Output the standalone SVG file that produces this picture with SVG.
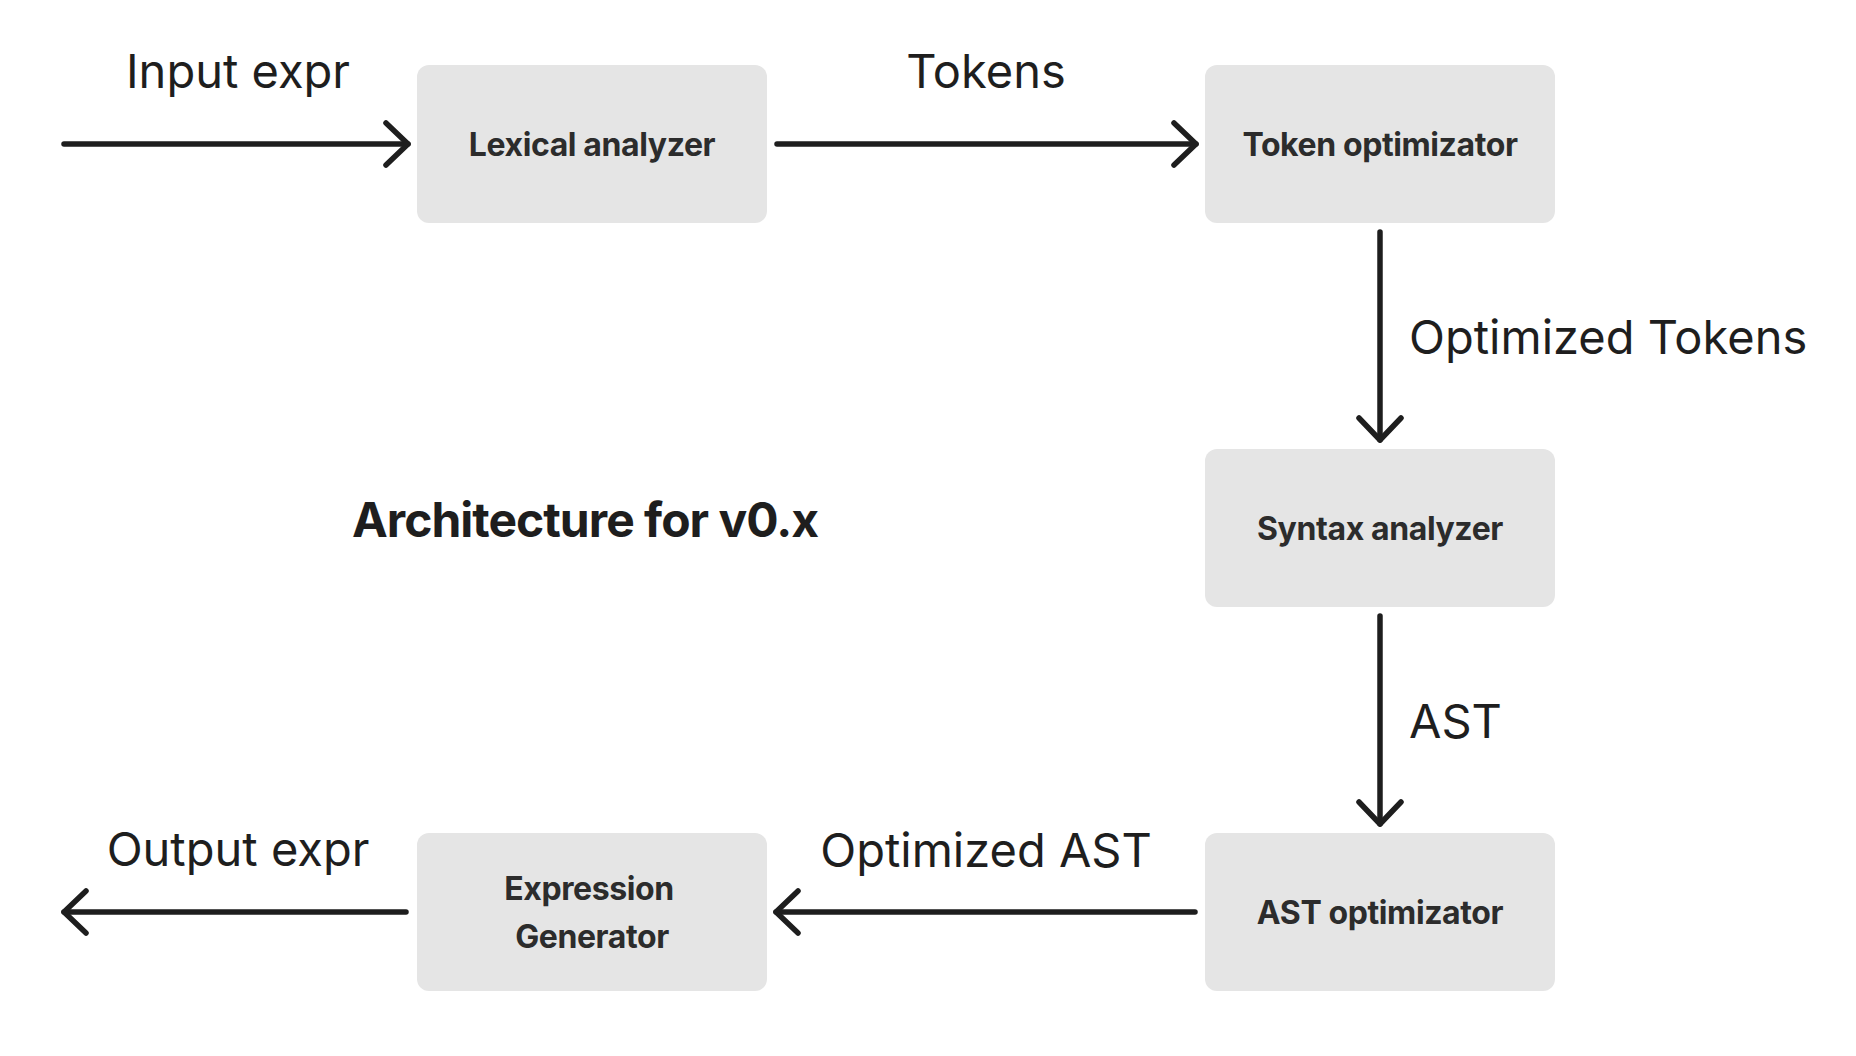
<svg xmlns="http://www.w3.org/2000/svg" width="1856" height="1056" viewBox="0 0 1856 1056">
  <style>
    .box { fill: #e5e5e5; }
    .node-text { font-family: Inter, "Noto Sans", "Liberation Sans", sans-serif; font-weight: 700; font-size: 32px; letter-spacing: -0.4px; fill: #2c2c2c; text-anchor: middle; }
    .label { font-family: Inter, "Noto Sans", "Liberation Sans", sans-serif; font-weight: 400; font-size: 47px; fill: #1e1e1e; }
    .title { font-family: Inter, "Noto Sans", "Liberation Sans", sans-serif; font-weight: 700; font-size: 48px; letter-spacing: -1px; fill: #1e1e1e; }
    .edge { fill: none; stroke: #1e1e1e; stroke-width: 5.5; stroke-linecap: round; stroke-linejoin: round; }
  </style>
  <defs>
    <marker id="chev" markerUnits="userSpaceOnUse" markerWidth="60" markerHeight="60" viewBox="-30 -30 60 60" refX="0" refY="0" orient="auto" overflow="visible">
      <path d="M-22,-21 L0,0 L-22,21" fill="none" stroke="#1e1e1e" stroke-width="5.5" stroke-linecap="round" stroke-linejoin="round"/>
    </marker>
  </defs>
  <rect width="1856" height="1056" fill="#ffffff"/>

  <g id="connectors">
    <g id="edge-input">
      <line class="edge" x1="64" y1="144" x2="408" y2="144" marker-end="url(#chev)"/>
      <text class="label" x="238" y="88" text-anchor="middle">Input expr</text>
    </g>
    <g id="edge-tokens">
      <line class="edge" x1="777" y1="144" x2="1196" y2="144" marker-end="url(#chev)"/>
      <text class="label" x="986" y="88" text-anchor="middle">Tokens</text>
    </g>
    <g id="edge-optimized-tokens">
      <line class="edge" x1="1380" y1="232" x2="1380" y2="440" marker-end="url(#chev)"/>
      <text class="label" x="1409" y="354">Optimized Tokens</text>
    </g>
    <g id="edge-ast">
      <line class="edge" x1="1380" y1="616" x2="1380" y2="824" marker-end="url(#chev)"/>
      <text class="label" x="1409" y="738">AST</text>
    </g>
    <g id="edge-optimized-ast">
      <line class="edge" x1="1195" y1="912" x2="776" y2="912" marker-end="url(#chev)"/>
      <text class="label" x="986" y="867" text-anchor="middle">Optimized AST</text>
    </g>
    <g id="edge-output">
      <line class="edge" x1="406" y1="912" x2="64" y2="912" marker-end="url(#chev)"/>
      <text class="label" x="238" y="866" text-anchor="middle">Output expr</text>
    </g>
  </g>

  <g id="lexical-analyzer">
    <rect class="box" x="417" y="65" width="350" height="158" rx="12"/>
    <text class="node-text" x="592" y="155.5">Lexical analyzer</text>
  </g>
  <g id="token-optimizator">
    <rect class="box" x="1205" y="65" width="350" height="158" rx="12"/>
    <text class="node-text" x="1380" y="155.5">Token optimizator</text>
  </g>
  <g id="syntax-analyzer">
    <rect class="box" x="1205" y="449" width="350" height="158" rx="12"/>
    <text class="node-text" x="1380" y="539.5">Syntax analyzer</text>
  </g>
  <g id="ast-optimizator">
    <rect class="box" x="1205" y="833" width="350" height="158" rx="12"/>
    <text class="node-text" x="1380" y="923.5">AST optimizator</text>
  </g>
  <g id="expression-generator">
    <rect class="box" x="417" y="833" width="350" height="158" rx="12"/>
    <text class="node-text" x="589" y="900">Expression</text>
    <text class="node-text" x="592" y="948">Generator</text>
  </g>

  <g id="title">
    <text class="title" x="352" y="537">Architecture for v0.x</text>
  </g>
</svg>
